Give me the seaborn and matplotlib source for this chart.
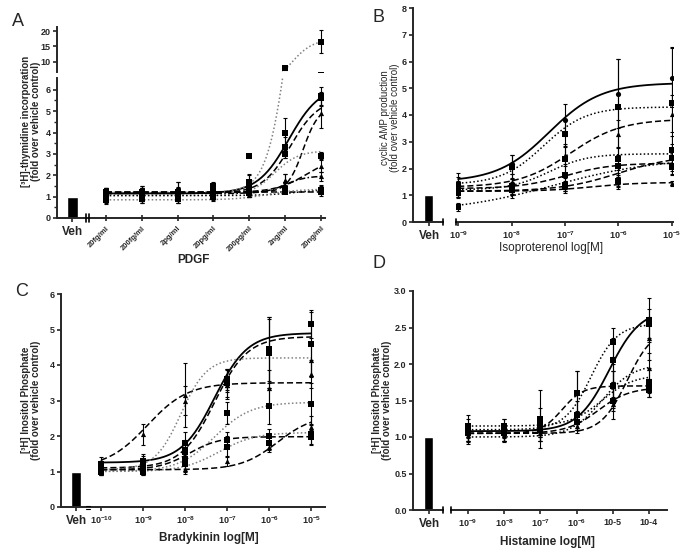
import numpy as np
import pandas as pd
import seaborn as sns
import matplotlib.pyplot as plt
from matplotlib.lines import Line2D

sns.set_style("ticks")
plt.rcParams['font.family'] = ['Liberation Sans', 'DejaVu Sans']
plt.rcParams['font.weight'] = 'bold'
plt.rcParams['mathtext.fontset'] = 'custom'
plt.rcParams['mathtext.rm'] = 'Liberation Sans'
plt.rcParams['mathtext.bf'] = 'Liberation Sans:bold'

# --- data ---
# fits are (bottom, top, logEC50, hill slope)
veh_value = 1.0

A_x = [0, 1, 2, 3, 4, 5, 6]
A_ticklabels = ['20fg/ml', '200fg/ml', '2pg/ml', '20pg/ml', '200pg/ml', '2ng/ml', '20ng/ml']
A_means = [
    [1.15, 1.15, 1.2, 1.2, 1.55, 3.3, 5.7],
    [1.2, 1.2, 1.2, 1.35, 2.9, 7.8, 16.5],
    [1.1, 1.1, 1.15, 1.2, 1.3, 1.5, 4.9],
    [1.0, 1.1, 1.2, 1.25, 1.7, 4.0, 5.6],
    [1.0, 1.0, 1.1, 1.5, 1.4, 3.0, 2.9],
    [1.2, 1.2, 1.2, 1.2, 1.3, 1.75, 2.45],
    [1.15, 1.15, 1.15, 1.15, 1.2, 1.8, 1.95],
    [1.0, 1.0, 1.0, 1.1, 1.15, 1.2, 1.3],
    [1.2, 1.2, 1.2, 1.2, 1.2, 1.2, 1.2],
    [0.85, 0.9, 0.9, 1.0, 1.2, 1.35, 1.3],
]
A_errs = [
    [0.25, 0.35, 0.5, 0.25, 0.45, 0.5, 0.45],
    [0.2, 0.2, 0.2, 0.2, 0.0, 0.4, 3.8],
    [0.3, 0.3, 0.3, 0.3, 0.3, 0.2, 0.7],
    [0.3, 0.4, 0.5, 0.4, 0.35, 0.7, 0.3],
    [0.2, 0.2, 0.2, 0.2, 0.2, 0.2, 0.2],
    [0.2, 0.2, 0.2, 0.2, 0.2, 0.3, 0.3],
    [0.2, 0.2, 0.2, 0.2, 0.15, 0.25, 0.2],
    [0.2, 0.2, 0.2, 0.2, 0.15, 0.05, 0.25],
    [0.2, 0.2, 0.2, 0.2, 0.2, 0.05, 0.05],
    [0.2, 0.2, 0.2, 0.2, 0.2, 0.2, 0.2],
]
A_fits = [
    (1.15, 6.2, 5.1, 1.0), (1.2, 17.5, 5.15, 1.4), (1.2, 5.2, 5.5, 2.0),
    (1.15, 5.6, 5.15, 1.1), (1.05, 3.15, 4.7, 1.3), (1.2, 2.9, 5.6, 1.0),
    (1.15, 1.97, 5.0, 1.5), (1.05, 1.35, 5.3, 1.0), (1.2, 1.2, 5.0, 1.0),
    (0.85, 1.35, 4.5, 1.0),
]

B_x = [-9, -8, -7, -6, -5]
B_means = [
    [1.45, 2.15, 3.8, 4.8, 5.4],
    [1.4, 2.05, 3.3, 4.3, 4.45],
    [1.25, 1.5, 2.5, 3.3, 4.05],
    [1.15, 1.3, 2.35, 2.35, 2.7],
    [1.2, 1.35, 1.75, 2.1, 2.4],
    [1.1, 1.25, 1.35, 1.55, 2.05],
    [1.15, 1.2, 1.3, 1.5, 1.45],
    [0.55, 1.2, 1.4, 1.55, 2.1],
]
B_errs = [
    [0.4, 0.35, 0.6, 1.3, 1.1],
    [0.3, 0.45, 0.5, 1.8, 2.1],
    [0.3, 0.3, 0.4, 0.5, 0.7],
    [0.2, 0.3, 0.5, 0.4, 0.5],
    [0.2, 0.3, 0.4, 0.4, 0.5],
    [0.2, 0.2, 0.2, 0.3, 0.3],
    [0.15, 0.2, 0.2, 0.2, 0.1],
    [0.15, 0.3, 0.25, 0.2, 0.3],
]
B_fits = [
    (1.5, 5.2, -7.3, 0.9), (1.4, 4.3, -7.4, 1.1), (1.3, 3.85, -6.9, 0.9),
    (1.2, 2.55, -7.3, 1.2), (1.25, 2.2, -7.0, 1.0), (1.15, 2.5, -6.0, 0.8),
    (1.15, 1.48, -6.5, 1.0), (0.35, 2.4, -7.2, 0.45),
]

C_x = [-10, -9, -8, -7, -6, -5]
C_means = [
    [1.2, 1.3, 1.8, 3.6, 4.45, 5.15],
    [1.1, 1.2, 1.6, 3.5, 4.35, 4.6],
    [1.3, 2.05, 3.15, 3.45, 3.35, 3.75],
    [1.0, 1.15, 3.0, 3.45, 4.4, 4.15],
    [1.0, 1.05, 1.35, 2.65, 2.85, 2.9],
    [1.05, 1.1, 1.55, 1.9, 1.8, 1.97],
    [1.0, 1.0, 1.2, 1.7, 2.0, 2.05],
    [1.05, 1.05, 1.07, 1.3, 1.7, 2.25],
]
C_errs = [
    [0.1, 0.2, 0.3, 0.3, 0.9, 0.4],
    [0.1, 0.25, 0.3, 0.4, 1.0, 0.9],
    [0.1, 0.3, 0.9, 0.2, 0.5, 0.4],
    [0.1, 0.2, 0.4, 0.4, 0.9, 0.5],
    [0.1, 0.15, 0.2, 0.3, 0.5, 0.6],
    [0.1, 0.15, 0.3, 0.2, 0.2, 0.2],
    [0.1, 0.1, 0.2, 0.3, 0.2, 0.3],
    [0.1, 0.1, 0.15, 0.15, 0.15, 0.3],
]
C_fits = [
    (1.25, 4.9, -7.3, 1.1), (1.1, 4.8, -7.3, 1.1), (1.1, 3.5, -8.9, 0.9),
    (1.05, 4.2, -8.1, 1.4), (1.0, 2.95, -7.3, 1.0), (1.05, 1.98, -7.9, 1.2),
    (1.0, 2.1, -7.2, 1.0), (1.05, 2.6, -5.8, 1.0),
]

D_x = [-9, -8, -7, -6, -5, -4]
D_ticklabels = [r'$\mathbf{10^{-9}}$', r'$\mathbf{10^{-8}}$', r'$\mathbf{10^{-7}}$',
                r'$\mathbf{10^{-6}}$', '10-5', '10-4']
D_means = [
    [1.08, 1.08, 1.1, 1.3, 2.05, 2.6],
    [1.1, 1.1, 1.25, 1.6, 2.3, 2.55],
    [1.05, 1.05, 1.2, 1.6, 1.7, 1.7],
    [1.05, 1.05, 1.05, 1.15, 1.45, 2.35],
    [1.05, 1.05, 1.1, 1.2, 1.5, 1.65],
    [1.15, 1.15, 1.15, 1.2, 1.7, 1.75],
    [1.03, 1.03, 1.05, 1.2, 1.7, 1.95],
]
D_errs = [
    [0.1, 0.1, 0.15, 0.2, 0.3, 0.3],
    [0.2, 0.15, 0.4, 0.3, 0.2, 0.2],
    [0.1, 0.1, 0.2, 0.3, 0.3, 0.1],
    [0.1, 0.1, 0.1, 0.05, 0.1, 0.3],
    [0.1, 0.1, 0.1, 0.1, 0.25, 0.1],
    [0.1, 0.1, 0.1, 0.1, 0.2, 0.2],
    [0.1, 0.1, 0.1, 0.15, 0.2, 0.2],
]
D_fits = [
    (1.08, 2.75, -5.1, 1.0), (1.1, 2.55, -5.6, 1.2), (1.05, 1.7, -6.4, 1.5),
    (1.05, 2.5, -4.6, 1.2), (1.05, 1.68, -5.4, 1.0), (1.15, 1.85, -5.3, 1.0),
    (1.0, 2.0, -5.3, 1.0),
]

# --- styles (line style, colour, marker) ---
SOLID, DASH, DOT, DASHDOT = '-', (0, (4, 2)), (0, (1, 1.5)), (0, (4, 1.5, 1, 1.5))
GRAY = '#808080'
A_styles = [(SOLID, 'k', 's'), (DOT, GRAY, 's'), (DASH, 'k', '^'), (DASH, 'k', 's'),
            (DOT, GRAY, 's'), (DASH, 'k', '^'), (DASHDOT, 'k', '^'), (DOT, 'k', 's'),
            (DASH, 'k', 's'), (DOT, GRAY, 's')]
B_styles = [(SOLID, 'k', 'o'), (DOT, 'k', 's'), (DASH, 'k', '^'), (DOT, 'k', 's'),
            (DASH, 'k', 's'), (DASH, 'k', 's'), (DASH, 'k', '^'), (DOT, 'k', 's')]
C_styles = [(SOLID, 'k', 's'), (DASH, 'k', 's'), (DASH, 'k', '^'), (DOT, GRAY, '^'),
            (DOT, GRAY, 's'), (DASH, 'k', 's'), (DOT, GRAY, 's'), (DASH, 'k', '^')]
D_styles = [(SOLID, 'k', 's'), (DOT, 'k', 's'), (DASH, 'k', 's'), (DASH, 'k', '^'),
            (DASH, 'k', 's'), (DOT, 'k', 's'), (DOT, 'k', '^')]

W, H = 685, 557
fig = plt.figure(figsize=(W / 100, H / 100), dpi=100)


def px_axes(x0, y0, x1, y1):
    # axes placed by pixel box (top-left origin)
    return fig.add_axes([x0 / W, 1 - y1 / H, (x1 - x0) / W, (y1 - y0) / H])


def px_line(xs, ys, lw=1.2):
    fig.add_artist(Line2D([x / W for x in xs], [1 - y / H for y in ys], color='k', lw=lw))


def px_text(x, y, s, **kw):
    fig.text(x / W, 1 - y / H, s, **kw)


def hill(x, bottom, top, mid, slope):
    return bottom + (top - bottom) / (1 + 10 ** (slope * (mid - x)))


def draw_series(ax, xs, means, errs, fit, style):
    ls, color, marker = style
    grid = np.linspace(xs[0], xs[-1], 200)
    lw = 1.3 if ls == SOLID else 1.1
    sns.lineplot(x=grid, y=hill(grid, *fit), ax=ax, color=color, linestyle=ls, lw=lw)
    ax.errorbar(xs, means, yerr=errs, fmt='none', ecolor='k', elinewidth=0.8,
                capsize=1.6, capthick=0.8, zorder=3)
    sns.scatterplot(x=xs, y=means, ax=ax, marker=marker, color='k', s=14,
                    linewidth=0, zorder=4)
    ax.set_xlabel('')
    ax.set_ylabel('')


def style_axis(ax, left=True, bottom=True):
    for side in ['top', 'right']:
        ax.spines[side].set_visible(False)
    ax.spines['left'].set_visible(left)
    ax.spines['bottom'].set_visible(bottom)
    for side in ['left', 'bottom']:
        ax.spines[side].set_linewidth(1.4)
    ax.tick_params(width=1.2, length=3, labelsize=6.5, pad=1.5)
    if not left:
        ax.tick_params(axis='y', left=False, labelleft=False)
    if not bottom:
        ax.tick_params(axis='x', bottom=False, labelbottom=False)
    ax.set_facecolor('none')


def veh_axes(box, ylim, yticks, center, bar_px):
    ax = px_axes(*box)
    sns.barplot(x=['Veh'], y=[veh_value], color='black', width=0.8, ax=ax)
    ax.set_ylim(*ylim)
    ax.set_yticks(yticks)
    scale = bar_px / 0.8
    span = (box[2] - box[0]) / scale
    left = (center - box[0]) / scale
    ax.set_xlim(-left, span - left)
    ax.set_xlabel('')
    ax.set_ylabel('')
    style_axis(ax)
    ax.tick_params(axis='x', labelsize=8.5, pad=2.5)
    return ax


def main_axes(box, xlim, ylim, xs, ticklabels):
    ax = px_axes(*box)
    ax.set_xlim(*xlim)
    ax.set_ylim(*ylim)
    ax.set_xticks(xs)
    ax.set_xticklabels(ticklabels)
    style_axis(ax, left=False)
    ax.tick_params(axis='x', pad=2.5)
    return ax


def pow_labels(xs):
    return [r'$\mathbf{10^{%d}}$' % v for v in xs]


# ---------- Panel A ----------
vA = veh_axes((57, 78, 83, 218), (0, 6.55), range(0, 7), center=72, bar_px=11)
vA.set_yticks(np.arange(0.5, 6.5, 1.0), minor=True)
vA.tick_params(axis='y', which='minor', length=2, width=1.0)
mA = main_axes((84, 78, 325, 218), (-0.61, 6.11), (0, 6.55), A_x, A_ticklabels)
mA.tick_params(axis='x', direction='inout', length=5, labelsize=5.5)
for lab in mA.get_xticklabels():
    lab.set_rotation(45)
    lab.set_ha('right')
    lab.set_rotation_mode('anchor')
uA = px_axes(57, 27, 325, 72)
uA.set_xlim(-1.37, 6.11)
uA.set_ylim(6.6, 21.4)
uA.set_yticks([10, 15, 20])
style_axis(uA, bottom=False)
for i in range(len(A_means)):
    draw_series(mA, A_x, A_means[i], A_errs[i], A_fits[i], A_styles[i])
    draw_series(uA, A_x, A_means[i], A_errs[i], A_fits[i], A_styles[i])
px_line([86, 86], [214, 222])
px_line([89, 89], [214, 222])
px_text(12, 22, 'A', fontsize=13, fontweight='normal', va='center')
px_text(31, 121, '[³H]-thymidine incorporation\n(fold over vehicle control)',
        rotation=90, ha='center', va='center', fontsize=7, linespacing=1.05)
px_text(193, 260, 'PDGF', ha='center', va='center', fontsize=8.5)

# ---------- Panel B ----------
vB = veh_axes((413, 8, 443, 222), (0, 8), range(0, 9), center=429, bar_px=9)
mB = main_axes((456, 8, 673, 222), (-9.04, -4.98), (0, 8), B_x, pow_labels(B_x))
for i in range(len(B_means)):
    draw_series(mB, B_x, B_means[i], B_errs[i], B_fits[i], B_styles[i])
px_line([443, 443], [219, 225])
px_line([456, 456], [219, 225])
px_text(372, 18, 'B', fontsize=13, fontweight='normal', va='center')
px_text(390, 118, 'cyclic AMP production\n(fold over vehicle control)',
        rotation=90, ha='center', va='center', fontsize=7, fontweight='normal',
        linespacing=1.1)
px_text(551, 248, 'Isoproterenol log[M]', ha='center', va='center', fontsize=8.5,
        fontweight='normal')

# ---------- Panel C ----------
vC = veh_axes((61, 294, 87, 507), (0, 6), range(0, 7), center=76, bar_px=10)
mC = main_axes((89, 294, 325, 507), (-10.29, -4.67), (0, 6), C_x, pow_labels(C_x))
for i in range(len(C_means)):
    draw_series(mC, C_x, C_means[i], C_errs[i], C_fits[i], C_styles[i])
px_line([86, 90], [505.5, 505.5], lw=0.8)
px_line([86, 90], [508.5, 508.5], lw=0.8)
px_text(15, 292, 'C', fontsize=13, fontweight='normal', va='center')
px_text(31, 400, '[³H] Inositol Phosphate\n(fold over vehicle control)',
        rotation=90, ha='center', va='center', fontsize=7, linespacing=1.05)
px_text(209, 538, 'Bradykinin log[M]', ha='center', va='center', fontsize=8.5)

# ---------- Panel D ----------
D_yticks = np.arange(0, 3.01, 0.5)
vD = veh_axes((413, 291, 443, 510), (0, 3.0), D_yticks, center=429, bar_px=9)
vD.set_yticklabels(['%.1f' % v for v in D_yticks])
mD = main_axes((451, 291, 667, 510), (-9.47, -3.5), (0, 3.0), D_x, D_ticklabels)
for i in range(len(D_means)):
    draw_series(mD, D_x, D_means[i], D_errs[i], D_fits[i], D_styles[i])
px_line([443, 443], [507, 513])
px_line([451, 451], [507, 513])
px_text(373, 263, 'D', fontsize=13, fontweight='normal', va='center')
px_text(382, 400, '[³H] Inositol Phosphate\n(fold over vehicle control)',
        rotation=90, ha='center', va='center', fontsize=7, linespacing=1.05)
px_text(547, 542, 'Histamine log[M]', ha='center', va='center', fontsize=8.5)

fig.savefig('out.png', dpi=100)
